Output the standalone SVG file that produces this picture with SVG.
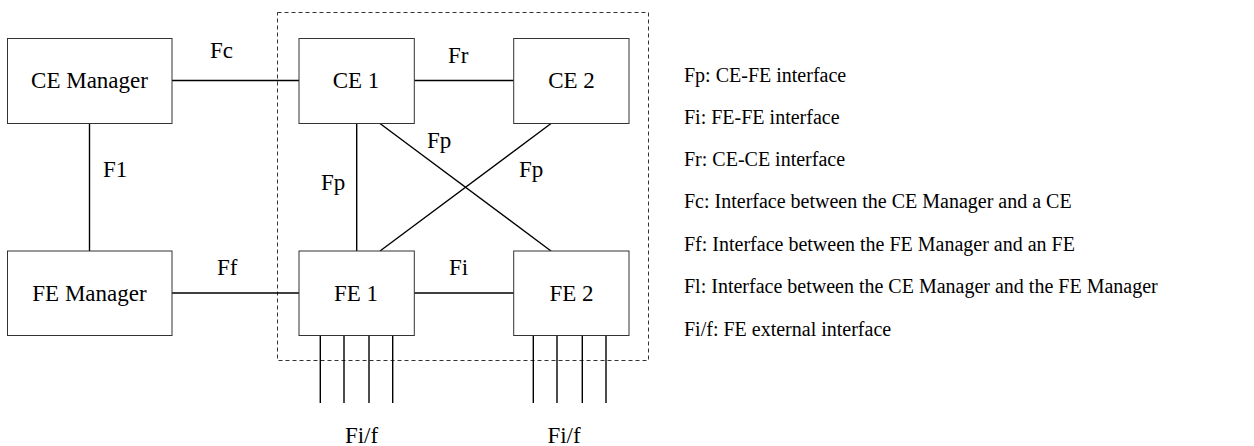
<svg xmlns="http://www.w3.org/2000/svg" width="1254" height="446" viewBox="0 0 1254 446">
<style>
.box{fill:#fff;stroke:#333;stroke-width:1}
.ln{stroke:#000;stroke-width:1.4;fill:none}
.dash{fill:none;stroke:#333;stroke-width:1;stroke-dasharray:4,3}
text{font-family:"Liberation Serif","Times New Roman",serif;fill:#000}
.nl{font-size:23px;text-anchor:middle}
.lb{font-size:23px}
.lg{font-size:20px}
</style>
<rect width="1254" height="446" fill="#fff"/>
<rect class="dash" x="277.5" y="12.5" width="371" height="348"/>
<g id="connectors">
<line class="ln" x1="172" y1="80.5" x2="299" y2="80.5"/>
<line class="ln" x1="89.5" y1="123" x2="89.5" y2="251"/>
<line class="ln" x1="172" y1="293" x2="299" y2="293"/>
<line class="ln" x1="414" y1="80.5" x2="514" y2="80.5"/>
<line class="ln" x1="414" y1="293" x2="514" y2="293"/>
<line class="ln" x1="356.7" y1="123" x2="356.7" y2="251"/>
<line class="ln" x1="379.3" y1="123" x2="551" y2="251"/>
<line class="ln" x1="551.7" y1="123" x2="380" y2="251"/>
<line class="ln" x1="320.3" y1="335" x2="320.3" y2="403"/>
<line class="ln" x1="344" y1="335" x2="344" y2="403"/>
<line class="ln" x1="369" y1="335" x2="369" y2="403"/>
<line class="ln" x1="392.7" y1="335" x2="392.7" y2="403"/>
<line class="ln" x1="533.3" y1="335" x2="533.3" y2="403"/>
<line class="ln" x1="557" y1="335" x2="557" y2="403"/>
<line class="ln" x1="582.3" y1="335" x2="582.3" y2="403"/>
<line class="ln" x1="606" y1="335" x2="606" y2="403"/>
<text class="lb" x="210" y="58">Fc</text>
<text class="lb" x="103" y="177">F1</text>
<text class="lb" x="217" y="275">Ff</text>
<text class="lb" x="448" y="63">Fr</text>
<text class="lb" x="449" y="275">Fi</text>
<text class="lb" x="321" y="190">Fp</text>
<text class="lb" x="427" y="148">Fp</text>
<text class="lb" x="519" y="177">Fp</text>
<text class="nl" x="361.5" y="443">Fi/f</text>
<text class="nl" x="564" y="443">Fi/f</text>
</g>
<g id="ce-manager"><rect class="box" x="7.5" y="38.5" width="164.5" height="85"/><text class="nl" x="89.5" y="88">CE Manager</text></g>
<g id="fe-manager"><rect class="box" x="7.5" y="251" width="164.5" height="84.5"/><text class="nl" x="89.5" y="300.5">FE Manager</text></g>
<g id="ce1"><rect class="box" x="299" y="38.5" width="115.3" height="85"/><text class="nl" x="356" y="88">CE 1</text></g>
<g id="ce2"><rect class="box" x="513.7" y="38.5" width="115.3" height="85"/><text class="nl" x="571.5" y="88">CE 2</text></g>
<g id="fe1"><rect class="box" x="299" y="251" width="115.3" height="84.5"/><text class="nl" x="356" y="300.5">FE 1</text></g>
<g id="fe2"><rect class="box" x="513.7" y="251" width="115.3" height="84.5"/><text class="nl" x="571.5" y="300.5">FE 2</text></g>
<g id="legend">
<text class="lg" x="684" y="82">Fp: CE-FE interface</text>
<text class="lg" x="684" y="124">Fi: FE-FE interface</text>
<text class="lg" x="684" y="166">Fr: CE-CE interface</text>
<text class="lg" x="684" y="208">Fc: Interface between the CE Manager and a CE</text>
<text class="lg" x="684" y="251">Ff: Interface between the FE Manager and an FE</text>
<text class="lg" x="684" y="293">Fl: Interface between the CE Manager and the FE Manager</text>
<text class="lg" x="684" y="336">Fi/f: FE external interface</text>
</g>
</svg>
